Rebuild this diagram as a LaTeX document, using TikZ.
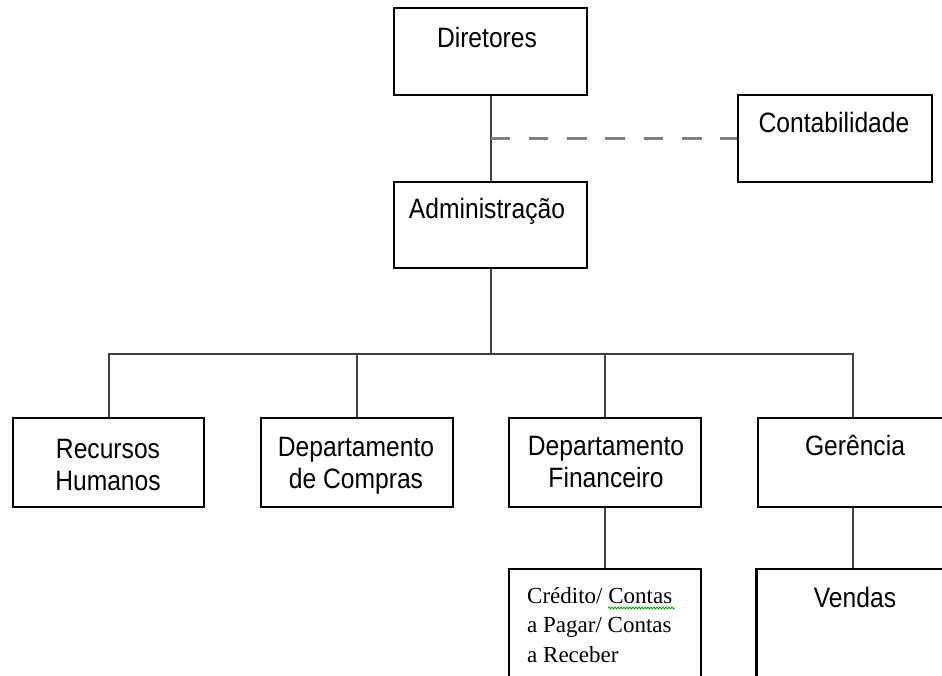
\documentclass[tikz,border=0pt]{standalone}
\usepackage{fontspec}
\setmainfont{Liberation Sans}[FakeStretch=0.88]
\newfontfamily\tnr{Liberation Serif}
\usetikzlibrary{decorations.pathmorphing}
\newcommand\mlc[1]{\begin{tabular}[t]{@{}c@{}}#1\end{tabular}}
\newcommand\mll[1]{\begin{tabular}[t]{@{}l@{}}#1\end{tabular}}
\begin{document}
\begin{tikzpicture}[x=1pt,y=-1pt,
  box/.style={draw=black,line width=1.6pt,rectangle,inner sep=0pt},
  lbl/.style={anchor=base,inner sep=0pt,font=\fontsize{28}{32}\selectfont},
  ser/.style={anchor=base west,inner sep=0pt,font=\tnr\fontsize{23}{29.5}\selectfont},
  link/.style={draw=black!75,line width=2pt},
  dashlink/.style={draw=black!50,line width=3pt,dash pattern=on 19.5pt off 18.8pt}]
\useasboundingbox (0,0) rectangle (942,675);
\clip (0,0) rectangle (942,675);
\fill[white] (0,0) rectangle (942,675);

% boxes
\node[box,minimum width=193pt,minimum height=87pt] (dir)  at (490.5,51.5) {};
\node[box,minimum width=194pt,minimum height=87pt] (cont) at (835,138.5) {};
\node[box,minimum width=193pt,minimum height=86pt] (adm)  at (490.5,225) {};
\node[box,minimum width=191pt,minimum height=89pt] (rh)   at (108.5,462.5) {};
\node[box,minimum width=192pt,minimum height=89pt] (comp) at (357,462.5) {};
\node[box,minimum width=192pt,minimum height=89pt] (fin)  at (605,462.5) {};
\node[box,minimum width=190pt,minimum height=89pt] (ger)  at (853,462.5) {};
\node[box,minimum width=192pt,minimum height=130pt] (cred) at (605,634) {};
\node[box,minimum width=192pt,minimum height=130pt] (vend) at (853,634) {};
\draw[line width=3pt] (vend.north west) -- (vend.south west);

% texts
\node[lbl] (tdir)  at (487,47)  {Diretores};
\node[lbl] (tcont) at (834,132) {Contabilidade};
\node[lbl] (tadm)  at (487,218) {Administração};
\node[lbl] (trh)   at (108,458) {\mlc{Recursos\\Humanos}};
\node[lbl] (tcomp) at (356,456) {\mlc{Departamento\\de Compras}};
\node[lbl] (tfin)  at (606,455) {\mlc{Departamento\\Financeiro}};
\node[lbl] (tger)  at (855,455) {Gerência};
\node[lbl] (tvend) at (855,607) {Vendas};
\node[ser] (tcred) at (527,603) {\mll{Crédito/ Contas\\a Pagar/ Contas\\a Receber}};
\draw[green!60!black,line width=0.8pt,decorate,decoration={snake,amplitude=1pt,segment length=3pt}]
  (608,608) -- (675,608);

% connectors
\coordinate (bus) at (490.5,354);
\draw[link] (dir.south) -- (adm.north);
\draw[link] (adm.south) -- (bus);
\draw[link] (rh.north) -- (rh.north |- bus) -- (ger.north |- bus) -- (ger.north);
\draw[link] (comp.north) -- (comp.north |- bus);
\draw[link] (fin.north) -- (fin.north |- bus);
\draw[link] (fin.south) -- (cred.north);
\draw[link] (ger.south) -- (vend.north);
\draw[dashlink] (dir.south |- cont.west) -- (cont.west);
\end{tikzpicture}
\end{document}
